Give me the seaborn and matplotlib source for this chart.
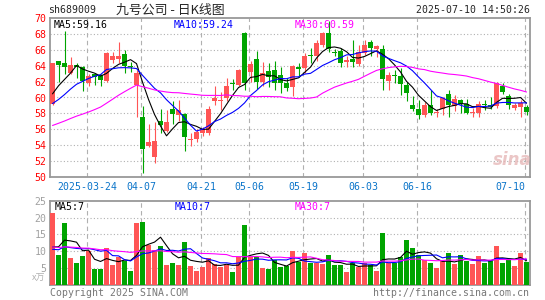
import numpy as np
import pandas as pd
import seaborn as sns
import matplotlib
matplotlib.use("Agg")
import matplotlib.pyplot as plt

# daily candles, 2025-03-14 .. 2025-07-10 (80 trading days)
opens = [59.2, 64.6, 64.4, 63.1, 64.1, 63.9, 61.8, 63.0, 62.8, 62.1,
         64.7, 64.8, 65.5, 64.0, 61.6, 57.6, 53.9, 52.5, 57.0, 55.8,
         58.6, 57.8, 57.9, 54.6, 54.8, 55.5, 55.5, 59.5, 59.6, 59.9,
         61.8, 61.6, 68.2, 63.2, 64.8, 61.9, 63.3, 63.5, 62.9, 61.85,
         61.3, 63.8, 63.7, 65.3, 65.3, 66.6, 68.1, 65.8, 65.9, 64.5,
         64.9, 64.2, 65.6, 67.0, 66.1, 66.1, 62.1, 62.9, 62.7, 61.6,
         59.1, 58.6, 57.8, 59.0, 58.1, 58.5, 60.4, 58.9, 59.7, 59.2,
         58.0, 58.0, 59.1, 59.0, 58.9, 61.4, 60.2, 58.7, 58.8, 58.8]
highs = [64.3, 64.6, 68.4, 65.1, 64.3, 64.0, 63.0, 63.1, 63.0, 65.8,
         65.8, 67.0, 66.0, 64.5, 63.5, 58.9, 56.6, 56.9, 58.6, 58.4,
         59.5, 59.7, 58.1, 55.5, 56.0, 56.3, 58.9, 61.4, 60.7, 62.4,
         62.3, 63.6, 68.3, 64.6, 65.9, 64.5, 64.4, 64.6, 63.9, 62.4,
         64.1, 64.4, 65.6, 66.2, 67.2, 68.3, 69.6, 66.1, 66.3, 65.2,
         67.2, 66.6, 67.3, 67.2, 66.6, 66.6, 63.2, 63.5, 63.7, 62.0,
         60.2, 59.7, 59.4, 60.9, 58.6, 60.0, 60.9, 60.3, 59.8, 59.8,
         58.7, 59.6, 59.7, 60.0, 61.9, 61.8, 60.4, 59.3, 59.7, 59.1]
lows = [59.1, 62.0, 63.0, 63.0, 62.4, 60.8, 61.5, 61.6, 61.4, 62.0,
        64.3, 64.3, 63.1, 63.2, 57.5, 50.5, 53.8, 51.7, 55.5, 55.6,
        56.7, 57.0, 53.3, 53.9, 54.4, 55.2, 55.3, 59.1, 58.4, 59.6,
        61.0, 61.4, 61.0, 62.0, 61.1, 61.5, 61.3, 61.0, 60.6, 60.8,
        60.2, 62.6, 63.1, 64.4, 64.6, 66.4, 65.8, 65.2, 63.8, 63.8,
        63.9, 64.0, 65.4, 65.3, 65.1, 61.0, 61.0, 61.8, 60.3, 59.5,
        58.3, 57.3, 57.6, 57.8, 57.6, 57.8, 57.6, 58.3, 58.1, 57.9,
        57.5, 57.5, 58.4, 58.5, 58.7, 60.5, 58.5, 58.4, 57.6, 57.8]
closes = [64.3, 64.1, 63.8, 64.1, 63.9, 62.1, 62.7, 62.6, 62.2, 65.6,
          65.2, 65.3, 64.0, 63.8, 63.1, 53.5, 54.4, 54.5, 56.5, 56.9,
          57.9, 58.4, 55.0, 54.8, 55.7, 56.0, 58.5, 59.9, 59.7, 61.5,
          61.7, 63.5, 61.8, 64.2, 62.0, 63.1, 62.6, 61.8, 61.8, 61.2,
          64.0, 63.6, 65.2, 65.2, 66.9, 68.1, 66.1, 65.6, 64.4, 64.7,
          64.5, 65.7, 66.6, 66.2, 66.5, 62.3, 62.9, 62.7, 61.7, 60.6,
          58.6, 57.8, 59.1, 58.1, 58.2, 59.9, 59.0, 59.8, 59.2, 58.1,
          58.1, 59.2, 59.0, 58.8, 61.8, 60.7, 59.1, 59.1, 59.3, 58.2]
volumes = [21.4, 9.0, 18.4, 8.1, 6.6, 8.6, 10.1, 4.8, 4.8, 10.9,
           5.9, 8.2, 7.2, 4.2, 18.4, 18.7, 11.9, 10.4, 11.5, 5.9,
           6.6, 5.9, 12.7, 5.6, 4.2, 5.4, 8.0, 6.2, 5.2, 6.0,
           3.8, 8.2, 17.8, 8.2, 8.2, 5.0, 4.7, 7.4, 5.4, 5.6,
           10.0, 6.9, 9.6, 6.4, 6.4, 6.2, 8.9, 5.9, 5.9, 3.9,
           6.4, 5.4, 6.6, 5.9, 4.2, 15.4, 6.5, 6.5, 8.3, 13.4,
           10.9, 9.0, 7.5, 6.5, 5.0, 7.0, 9.5, 6.2, 8.8, 7.2,
           6.2, 8.5, 6.5, 7.0, 11.7, 6.5, 7.5, 5.7, 9.5, 6.8]

# earlier days (off chart), estimated from where the MA lines start
pre_closes = [55.8, 55.2, 54.6, 54.9, 54.5, 54.7, 53.6, 52.4, 51.0, 50.3,
              50.1, 50.6, 50.9, 50.9, 59.5, 60.2, 61.0, 60.8, 60.5, 60.2,
              58.9, 57.6, 57.2, 57.8, 58.5, 59.0, 59.8, 60.1, 59.1]
pre_volumes = [14.5, 12.8, 10.2, 9.6, 13.9, 11.4, 10.8, 12.6, 9.9, 15.2,
               13.1, 11.0, 10.4, 12.3, 12.2, 11.8, 9.7, 10.9, 12.1, 8.6,
               10.5, 9.2, 11.0, 8.9, 9.9, 8.9, 8.5, 9.2, 8.5]

tick_pos = [6, 15, 25, 33, 42, 52, 61, 79]
tick_labels = ["2025-03-24", "04-07", "04-21", "05-06", "05-19", "06-03", "06-16", "07-10"]

df = pd.DataFrame({"open": opens, "high": highs, "low": lows,
                   "close": closes, "volume": volumes})
df["idx"] = np.arange(len(df))
df["up"] = df["close"] >= df["open"]

n_pre = len(pre_closes)
all_c = pd.Series(pre_closes + closes)
all_v = pd.Series(pre_volumes + volumes)
for w in (5, 10, 30):
    df[f"ma{w}"] = all_c.rolling(w).mean().iloc[n_pre:].values
    df[f"vma{w}"] = all_v.rolling(w).mean().iloc[n_pre:].values

sns.set_style("white")
plt.rcParams["font.family"] = ["DejaVu Sans Mono", "Noto Sans CJK SC"]

RED = "#ff5555"
GREEN = "#00a400"
GRID = "#b0b0b0"
FS = 7.1
W, H = 545, 300

fig = plt.figure(figsize=(W / 100, H / 100), dpi=100)
ax = fig.add_axes([50 / W, (H - 176.7) / H, 480 / W, 158.4 / H])
axv = fig.add_axes([50 / W, (H - 285) / H, 480 / W, 84.3 / H])

# price panel
colors = np.where(df["up"], RED, GREEN)
ax.vlines(df["idx"], df["low"], df["high"], colors=colors, lw=0.8, zorder=2)
body_lo = np.minimum(df["open"], df["close"])
body_h = np.maximum((df["close"] - df["open"]).abs(), 0.13)
ax.bar(df["idx"], body_h, bottom=body_lo, width=0.8, color=colors,
       linewidth=0, zorder=3)
sns.lineplot(data=df, x="idx", y="ma5", color="black", lw=0.8, ax=ax, zorder=4)
sns.lineplot(data=df, x="idx", y="ma10", color="#0000ff", lw=0.8, ax=ax, zorder=4)
sns.lineplot(data=df, x="idx", y="ma30", color="#ff00ff", lw=0.8, ax=ax, zorder=4)

# volume panel
sns.barplot(data=df, x="idx", y="volume", hue="up",
            palette={True: RED, False: GREEN}, dodge=False, native_scale=True,
            width=0.8, saturation=1, errorbar=None, legend=False,
            linewidth=0, ax=axv, zorder=3)
sns.lineplot(data=df, x="idx", y="vma5", color="black", lw=0.8, ax=axv, zorder=4)
sns.lineplot(data=df, x="idx", y="vma10", color="#0000ff", lw=0.8, ax=axv, zorder=4)
sns.lineplot(data=df, x="idx", y="vma30", color="#ff00ff", lw=0.8, ax=axv, zorder=4)

xlim = (-0.42, 79.58)
for a in (ax, axv):
    a.set_xlim(*xlim)
    a.set_xlabel("")
    a.set_ylabel("")
    for p in tick_pos:
        a.axvline(p - 0.25, color=GRID, lw=0.8, ls=(0, (4, 3)), zorder=1)
    for s in a.spines.values():
        s.set_color("#999999")
        s.set_linewidth(1.3)

ax.set_ylim(50, 70)
for y in range(52, 70, 2):
    ax.axhline(y, color=GRID, lw=0.8, ls=(0, (1, 2)), zorder=1)
ax.set_yticks(range(50, 71, 2))
ax.set_yticklabels([str(v) for v in range(50, 71, 2)])
ax.set_xticks([p - 0.25 for p in tick_pos])
ax.set_xticklabels(tick_labels)
ax.tick_params(axis="y", length=0, pad=2.5, labelsize=FS, labelcolor="#ff0000")
ax.tick_params(axis="x", length=0, pad=4, labelsize=FS, labelcolor="#0a74c9")
ax.get_xticklabels()[-1].set_ha("right")

axv.set_ylim(0, 25)
for y in (5, 10, 15, 20):
    axv.axhline(y, color=GRID, lw=0.8, ls=(0, (1, 2)), zorder=1)
axv.set_yticks([5, 10, 15, 20, 25])
axv.set_yticklabels(["5", "10", "15", "20", "25"])
axv.set_xticks([])
axv.tick_params(axis="y", length=0, pad=2.5, labelsize=FS, labelcolor="#a0a0a0")


def px_text(x, y, s, **kw):
    kw.setdefault("fontsize", FS)
    kw.setdefault("va", "center")
    fig.text(x / W, 1 - y / H, s, **kw)


# header
px_text(48, 10, "sh689009")
px_text(116, 10, "九号公司 - 日K线图", fontsize=9.3,
        family=["Noto Sans CJK SC", "DejaVu Sans"])
px_text(530, 10, "2025-07-10 14:50:26", ha="right")

px_text(54, 25, "MA5:59.16", color="black")
px_text(174, 25, "MA10:59.24", color="#0000ff")
px_text(295, 25, "MA30:60.59", color="#ff00ff")

px_text(55, 207, "MA5:7", color="black")
px_text(175, 207, "MA10:7", color="#0000ff")
px_text(295, 207, "MA30:7", color="#ff00ff")

px_text(45, 278, "x万", color="#b0b0b0", ha="right", fontsize=6.5,
        family=["Noto Sans CJK SC", "DejaVu Sans"])

px_text(50, 293, "Copyright 2025 SINA.COM", color="#777777")
px_text(529, 293, "http://finance.sina.com.cn", color="#777777", ha="right")

# watermark
px_text(512, 160, "sina", color="#e6b8b8", ha="center", fontsize=12,
        style="italic", weight="bold", family=["DejaVu Sans"], alpha=0.8)

fig.savefig("out.png", dpi=100)
